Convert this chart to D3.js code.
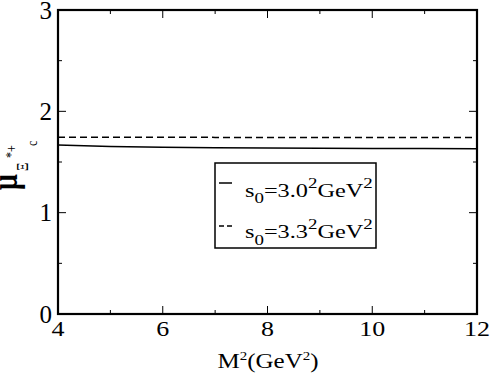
<!DOCTYPE html>
<html><head><meta charset="utf-8">
<script src="https://cdn.jsdelivr.net/npm/d3@7"></script>
<style>body{margin:0;background:#fff}svg{display:block}</style>
</head><body>
<svg id="c" width="491" height="373" font-family="'Liberation Serif', 'Times New Roman', Times, Tinos, serif"></svg>
<script>
const m2 = [4,5,6,7,8,9,10,11,12];
const muS30 = [1.667,1.653,1.646,1.641,1.638,1.636,1.634,1.632,1.630];
const muS33 = [1.744,1.744,1.744,1.743,1.743,1.743,1.743,1.743,1.743];
const xMajor = [4,6,8,10,12];
const xMinor = [5,7,9,11];
const yMajor = [0,1,2,3];
const yMinor = [0.5,1.5,2.5];

const svg = d3.select("#c");
const L=58,R=477,T=10,B=314;
const x = d3.scaleLinear().domain([4,12]).range([L,R]);
const y = d3.scaleLinear().domain([0,3]).range([B,T]);

const line = d3.line().x((d,i)=>x(m2[i])).y(d=>y(d));
svg.append("path").datum(muS30).attr("d",line).attr("fill","none").attr("stroke","#000").attr("stroke-width",1.5);
svg.append("path").datum(muS33).attr("d",line).attr("fill","none").attr("stroke","#000").attr("stroke-width",1.5).attr("stroke-dasharray","7,4");

const tk = svg.append("g").attr("stroke","#000").attr("stroke-width",1);
function xt(v,len){ tk.append("line").attr("x1",x(v)).attr("x2",x(v)).attr("y1",B).attr("y2",B-len);
  tk.append("line").attr("x1",x(v)).attr("x2",x(v)).attr("y1",T).attr("y2",T+len);}
function yt(v,len){ tk.append("line").attr("y1",y(v)).attr("y2",y(v)).attr("x1",L).attr("x2",L+len);
  tk.append("line").attr("y1",y(v)).attr("y2",y(v)).attr("x1",R).attr("x2",R-len);}
xMajor.forEach(v=>xt(v,8)); xMinor.forEach(v=>xt(v,4));
yMajor.forEach(v=>yt(v,8)); yMinor.forEach(v=>yt(v,4));

svg.append("rect").attr("x",L).attr("y",T).attr("width",R-L).attr("height",B-T)
  .attr("fill","none").attr("stroke","#000").attr("stroke-width",2.2);

xMajor.forEach(v=>{
  svg.append("text").attr("transform",`translate(${x(v)},336) scale(1.3,1)`)
    .attr("text-anchor","middle").attr("font-size",20).text(v);
});
yMajor.forEach(v=>{
  svg.append("text").attr("x",52).attr("y",y(v)).attr("dy","0.35em")
    .attr("text-anchor","end").attr("font-size",25).text(v);
});

const xtT = svg.append("text").attr("transform","translate(268,368) scale(1.25,1)")
  .attr("text-anchor","middle").attr("font-size",20);
xtT.append("tspan").text("M");
xtT.append("tspan").attr("font-size",12).attr("dy",-8).text("2");
xtT.append("tspan").attr("dy",8).text("(GeV");
xtT.append("tspan").attr("font-size",12).attr("dy",-8).text("2");
xtT.append("tspan").attr("dy",8).text(")");

const yg = svg.append("g").attr("transform","scale(1.3,1) rotate(-90)");
yg.append("text").attr("x",-190).attr("y",13).attr("font-size",28).attr("font-weight","bold").text("μ");
yg.append("text").attr("x",-171).attr("y",21.5).attr("font-size",13).text("Ξ");
yg.append("text").attr("x",-158).attr("y",12).attr("font-size",12).text("*+");
yg.append("text").attr("x",-146).attr("y",28.5).attr("font-size",12).text("c");

svg.append("rect").attr("x",215).attr("y",163).attr("width",161).attr("height",85)
  .attr("fill","#fff").attr("stroke","#000").attr("stroke-width",1.5);
const legend = [{v:"3.0",dash:null,ly:183,ty:196.5},{v:"3.3",dash:"5,3",ly:226,ty:238}];
legend.forEach(d=>{
  svg.append("line").attr("x1",219).attr("x2",232).attr("y1",d.ly).attr("y2",d.ly)
    .attr("stroke","#000").attr("stroke-width",1.5).attr("stroke-dasharray",d.dash);
  const t = svg.append("text").attr("transform",`translate(245,${d.ty}) scale(1.35,1)`).attr("font-size",18);
  t.append("tspan").text("s");
  t.append("tspan").attr("font-size",14).attr("dy",6.5).text("0");
  t.append("tspan").attr("dy",-6.5).text("="+d.v);
  t.append("tspan").attr("font-size",14).attr("dy",-9).text("2");
  t.append("tspan").attr("dy",9).text("GeV");
  t.append("tspan").attr("font-size",14).attr("dy",-9).text("2");
});
</script>
</body></html>
